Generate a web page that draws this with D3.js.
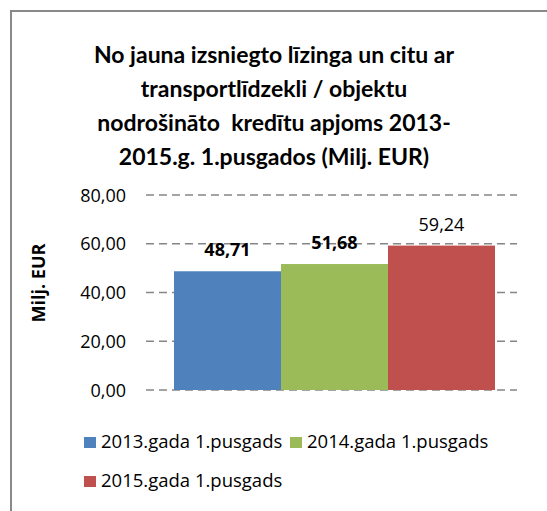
<!DOCTYPE html>
<html>
<head>
<meta charset="utf-8">
<script src="https://cdn.jsdelivr.net/npm/d3@7"></script>
<style>
  body { margin: 0; background: #fff; }
  text { font-family: "Open Sans", sans-serif; fill: #000; }
  .title { font-family: Lato, "Open Sans", sans-serif; }
</style>
</head>
<body>
<div id="viz"></div>
<script>
// chart data
var series = ["2013.gada 1.pusgads", "2014.gada 1.pusgads", "2015.gada 1.pusgads"]
var values = [48.71, 51.68, 59.24]
var labels = ["48,71", "51,68", "59,24"]
var boldLabel = [true, true, false]
var colors = ["#4f81bd", "#9bbb59", "#c0504d"]
var yTicks = [0, 20, 40, 60, 80]
var titleLines = [
  "No jauna izsniegto līzinga un citu ar",
  "transportlīdzekli / objektu",
  "nodrošināto  kredītu apjoms 2013-",
  "2015.g. 1.pusgados (Milj. EUR)"
]

var w = 547
var h = 511

var svg = d3.select("#viz")
  .append("svg")
  .attr("width", w)
  .attr("height", h)

// chart area border (only left and top are visible in the crop)
svg.append("path")
  .attr("d", "M11,511 V11 H547")
  .attr("fill", "none")
  .attr("stroke", "#898989")
  .attr("stroke-width", 2)

// title
svg.append("g").selectAll("text").data(titleLines)
  .enter()
  .append("text")
  .attr("class", "title")
  .attr("x", 274)
  .attr("y", (d, i) => 63 + i * 34)
  .attr("text-anchor", "middle")
  .attr("font-size", 23)
  .attr("font-weight", "bold")
  .style("white-space", "pre")
  .text(d => d)

var y = d3.scaleLinear().domain([0, 80]).range([390, 195])
var x = d3.scaleBand().domain(series).range([174, 495]).padding(0)

// gridlines
svg.append("g").selectAll("line").data(yTicks)
  .enter()
  .append("line")
  .attr("x1", 146)
  .attr("x2", 517)
  .attr("y1", d => y(d))
  .attr("y2", d => y(d))
  .attr("stroke", "#868686")
  .attr("stroke-width", 1.5)
  .attr("stroke-dasharray", "8,5")

// y tick labels
svg.append("g").selectAll("text").data(yTicks)
  .enter()
  .append("text")
  .attr("x", 126)
  .attr("y", d => y(d) + 6.5)
  .attr("text-anchor", "end")
  .attr("font-size", 18)
  .text(d => d3.format(".2f")(d).replace(".", ","))

// bars
svg.append("g").selectAll("rect").data(values)
  .enter()
  .append("rect")
  .attr("x", (d, i) => x(series[i]))
  .attr("y", d => y(d))
  .attr("width", x.bandwidth())
  .attr("height", d => y(0) - y(d))
  .attr("fill", (d, i) => colors[i])

// value labels
svg.append("g").selectAll("text").data(values)
  .enter()
  .append("text")
  .attr("x", (d, i) => x(series[i]) + x.bandwidth() / 2)
  .attr("y", d => y(d) - 15)
  .attr("text-anchor", "middle")
  .attr("font-size", 18)
  .attr("font-weight", (d, i) => boldLabel[i] ? "bold" : "normal")
  .text((d, i) => labels[i])

// y axis title
svg.append("text")
  .attr("transform", "translate(45,283) rotate(-90)")
  .attr("text-anchor", "middle")
  .attr("font-size", 17)
  .attr("font-weight", "bold")
  .attr("textLength", 79)
  .attr("lengthAdjust", "spacingAndGlyphs")
  .text("Milj. EUR")

// legend
var legendPos = [[84, 437], [290, 437], [84, 476]]
var legend = svg.append("g").selectAll("g").data(series)
  .enter()
  .append("g")
  .attr("transform", (d, i) => "translate(" + legendPos[i][0] + "," + legendPos[i][1] + ")")

legend.append("rect")
  .attr("width", 12)
  .attr("height", 11)
  .attr("fill", (d, i) => colors[i])

legend.append("text")
  .attr("x", 17)
  .attr("y", 11)
  .attr("font-size", 18.5)
  .text(d => d)
</script>
</body>
</html>
